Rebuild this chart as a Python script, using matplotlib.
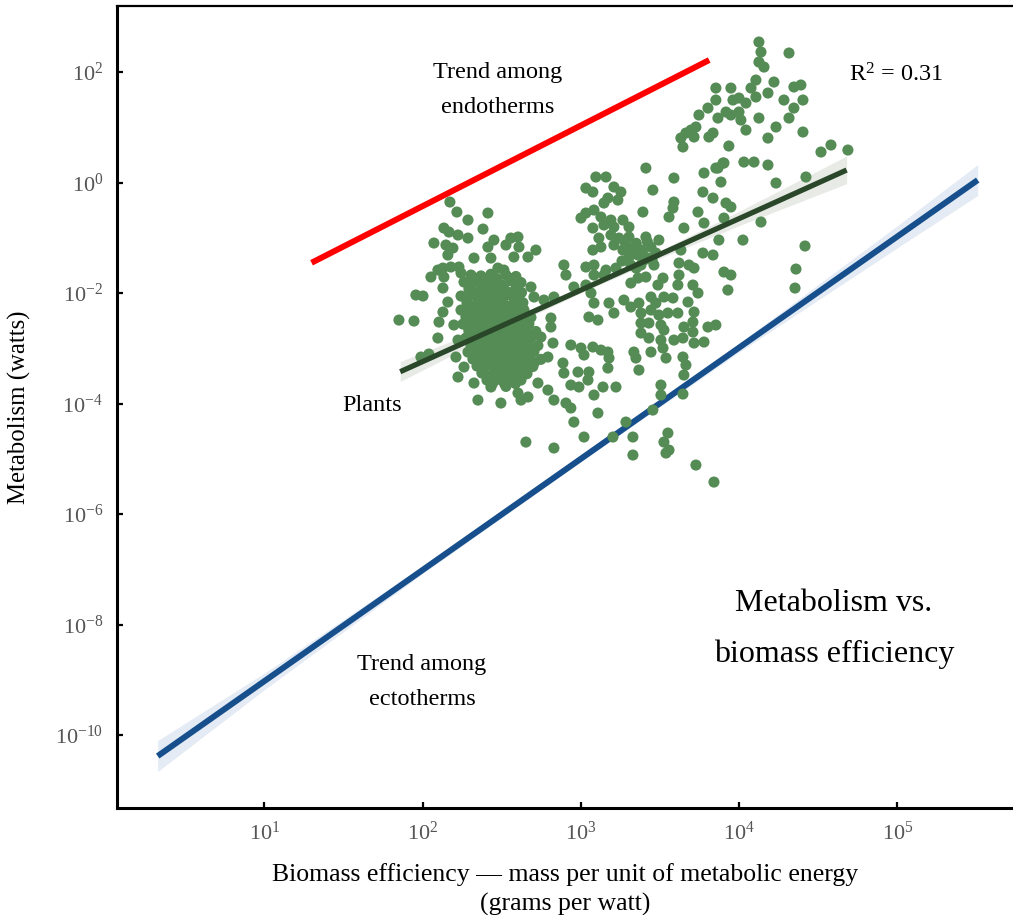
import numpy as np
import matplotlib
matplotlib.use('Agg')
import matplotlib.pyplot as plt

# Valores, en log10 (x: gramos por watt, y: watts)
# Nube de plantas, zona izquierda (~10^2 - 10^2.8)
cluster_a = [
    (2.173, -0.353), (2.217, -0.534), (2.287, -0.679), (2.413, -0.552), (2.135, -0.824),
    (2.167, -0.896), (2.224, -0.950), (2.287, -1.005), (2.382, -0.842), (2.072, -1.095),
    (2.148, -1.131), (2.192, -1.186), (2.160, -1.312), (2.451, -1.041), (2.413, -1.167),
    (2.325, -1.367), (2.432, -1.367), (2.527, -1.131), (2.558, -1.005), (2.603, -0.986),
    (2.609, -1.167), (2.577, -1.348), (2.666, -1.348), (2.716, -1.222), (2.476, -1.548),
    (2.514, -1.584), (2.129, -1.548), (2.179, -1.529), (2.230, -1.529), (2.097, -1.584),
    (2.053, -1.710), (2.243, -1.638), (2.135, -1.710), (1.958, -2.036), (2.003, -2.054),
    (1.851, -2.489), (1.946, -2.507), (2.129, -1.910), (2.160, -2.163), (2.129, -2.344),
    (2.104, -2.525), (2.198, -2.579), (2.097, -2.814), (2.224, -2.851), (1.990, -3.158),
    (2.040, -3.104), (2.685, -1.891), (2.704, -2.072), (2.641, -2.308), (2.767, -2.127),
    (2.830, -2.072), (2.811, -2.452), (2.811, -2.615), (2.748, -2.796), (2.824, -2.905),
    (2.792, -3.158), (2.830, -3.937), (2.792, -3.756), (2.729, -3.629), (2.666, -3.882),
    (2.603, -3.810), (2.622, -3.937), (2.495, -3.991), (2.350, -3.937), (2.224, -3.520),
    (2.325, -3.629), (2.262, -3.339), (2.211, -3.158), (2.653, -4.697), (2.830, -4.805),
]

# Nucleo denso de la zona izquierda
cluster_core = [
    (2.306, -1.674), (2.369, -1.690), (2.432, -1.660), (2.527, -1.674), (2.590, -1.700),
    (2.262, -1.801), (2.337, -1.790), (2.407, -1.815), (2.476, -1.801), (2.558, -1.780), (2.622, -1.810),
    (2.293, -1.928), (2.369, -1.940), (2.445, -1.915), (2.514, -1.928), (2.590, -1.950),
    (2.243, -2.054), (2.318, -2.040), (2.401, -2.070), (2.470, -2.054), (2.546, -2.030), (2.609, -2.060),
    (2.281, -2.181), (2.356, -2.195), (2.432, -2.170), (2.502, -2.181), (2.571, -2.200), (2.634, -2.175),
    (2.243, -2.308), (2.312, -2.290), (2.388, -2.320), (2.464, -2.308), (2.533, -2.295), (2.590, -2.320),
    (2.274, -2.434), (2.350, -2.450), (2.426, -2.420), (2.495, -2.434), (2.565, -2.450), (2.628, -2.425), (2.685, -2.440),
    (2.255, -2.561), (2.325, -2.545), (2.401, -2.575), (2.470, -2.561), (2.540, -2.550), (2.609, -2.575), (2.672, -2.555),
    (2.293, -2.688), (2.369, -2.700), (2.438, -2.675), (2.508, -2.688), (2.577, -2.705), (2.647, -2.680), (2.716, -2.695),
    (2.274, -2.814), (2.344, -2.800), (2.413, -2.830), (2.483, -2.814), (2.552, -2.800), (2.622, -2.825), (2.685, -2.810),
    (2.306, -2.941), (2.382, -2.955), (2.451, -2.930), (2.521, -2.941), (2.590, -2.960), (2.660, -2.935), (2.729, -2.950),
    (2.287, -3.068), (2.356, -3.055), (2.426, -3.080), (2.495, -3.068), (2.565, -3.055), (2.634, -3.080), (2.704, -3.060),
    (2.318, -3.195), (2.394, -3.210), (2.464, -3.185), (2.533, -3.195), (2.603, -3.210), (2.672, -3.185), (2.748, -3.200),
    (2.344, -3.321), (2.419, -3.305), (2.489, -3.335), (2.558, -3.321), (2.628, -3.305), (2.697, -3.330),
    (2.375, -3.448), (2.445, -3.460), (2.514, -3.435), (2.590, -3.448), (2.660, -3.460),
    (2.407, -3.575), (2.483, -3.560), (2.552, -3.585), (2.622, -3.575),
    (2.432, -3.701), (2.527, -3.690),
    # filas intermedias
    (2.341, -1.737), (2.404, -1.737), (2.467, -1.737), (2.562, -1.737),
    (2.297, -1.864), (2.372, -1.864), (2.442, -1.864), (2.511, -1.864), (2.593, -1.864),
    (2.328, -1.991), (2.404, -1.991), (2.480, -1.991), (2.549, -1.991), (2.625, -1.991),
    (2.278, -2.117), (2.353, -2.117), (2.436, -2.117), (2.505, -2.117), (2.581, -2.117),
    (2.316, -2.244), (2.391, -2.244), (2.467, -2.244), (2.537, -2.244), (2.606, -2.244),
    (2.278, -2.371), (2.347, -2.371), (2.423, -2.371), (2.499, -2.371), (2.568, -2.371), (2.625, -2.371),
    (2.309, -2.497), (2.385, -2.497), (2.461, -2.497), (2.530, -2.497), (2.600, -2.497), (2.663, -2.497),
    (2.290, -2.624), (2.360, -2.624), (2.436, -2.624), (2.505, -2.624), (2.575, -2.624), (2.644, -2.624),
    (2.328, -2.751), (2.404, -2.751), (2.473, -2.751), (2.543, -2.751), (2.612, -2.751), (2.682, -2.751),
    (2.309, -2.877), (2.379, -2.877), (2.448, -2.877), (2.518, -2.877), (2.587, -2.877), (2.657, -2.877),
    (2.341, -3.004), (2.417, -3.004), (2.486, -3.004), (2.556, -3.004), (2.625, -3.004), (2.695, -3.004),
    (2.322, -3.131), (2.391, -3.131), (2.461, -3.131), (2.530, -3.131), (2.600, -3.131), (2.669, -3.131),
    (2.353, -3.258), (2.429, -3.258), (2.499, -3.258), (2.568, -3.258), (2.638, -3.258), (2.707, -3.258),
    (2.379, -3.384), (2.454, -3.384), (2.524, -3.384), (2.593, -3.384), (2.663, -3.384),
    (2.410, -3.511), (2.480, -3.511), (2.549, -3.511), (2.625, -3.511),
    (2.442, -3.638), (2.518, -3.638), (2.587, -3.638),
]

# Zona central (~10^3 - 10^3.9)
cluster_b = [
    (3.411, 0.262), (3.588, 0.081), (3.778, 0.172), (3.866, 0.262), (3.904, 0.353),
    (4.030, 0.371), (4.094, 0.371), (3.095, 0.100), (3.159, 0.100), (3.032, -0.100),
    (3.076, -0.172), (3.209, -0.081), (3.253, -0.172), (3.455, -0.136), (3.885, 0.009),
    (3.771, -0.172), (3.835, -0.281), (3.171, -0.281), (3.146, -0.371), (3.234, -0.317),
    (3.588, -0.353), (3.582, -0.462), (3.557, -0.624), (3.740, -0.534), (3.392, -0.534),
    (3.917, -0.371), (3.948, -0.443), (3.001, -0.643), (3.032, -0.552), (3.083, -0.498),
    (3.127, -0.624), (3.190, -0.679), (3.266, -0.679), (3.076, -0.824), (3.146, -0.769),
    (3.209, -0.805), (3.304, -0.805), (3.651, -0.824), (3.778, -0.733), (3.904, -0.643),
    (4.138, -0.715), (3.114, -1.005), (3.190, -0.950), (3.241, -1.005), (3.304, -0.986),
    (3.411, -0.986), (3.493, -1.041), (3.872, -1.041), (4.024, -1.041), (3.076, -1.222),
    (3.127, -1.167), (3.209, -1.131), (3.266, -1.222), (3.329, -1.186), (3.380, -1.222),
    (3.443, -1.167), (3.304, -1.348), (3.361, -1.312), (3.424, -1.367), (3.474, -1.276),
    (3.632, -1.222), (3.771, -1.276), (3.835, -1.312), (2.893, -1.493), (3.032, -1.529),
    (3.083, -1.493), (3.159, -1.584), (3.222, -1.548), (3.316, -1.493), (3.380, -1.493),
    (3.462, -1.493), (3.620, -1.457), (3.683, -1.493), (3.715, -1.548), (2.906, -1.674),
    (3.083, -1.674), (3.146, -1.674), (3.620, -1.674), (3.904, -1.620), (3.948, -1.674),
    (2.956, -1.891), (3.032, -1.855), (3.064, -2.000), (3.316, -1.819), (3.361, -1.729),
    (3.411, -1.710), (3.487, -1.855), (3.519, -1.729), (3.613, -1.855), (3.708, -1.855),
    (3.740, -2.000), (3.929, -1.946), (3.083, -2.181), (3.178, -2.181), (3.209, -2.362),
    (3.272, -2.127), (3.316, -2.253), (3.367, -2.181), (3.443, -2.072), (3.474, -2.181),
    (3.525, -2.072), (3.582, -2.090), (3.677, -2.163), (3.380, -2.362), (3.443, -2.308),
    (3.493, -2.398), (3.550, -2.362), (3.613, -2.362), (3.715, -2.344), (3.051, -2.434),
    (3.108, -2.489), (3.380, -2.543), (3.430, -2.543), (3.506, -2.579), (3.651, -2.615),
    (3.708, -2.525), (3.803, -2.615), (3.853, -2.579), (3.380, -2.724), (3.525, -2.670),
    (3.708, -2.706), (3.430, -2.814), (3.506, -2.851), (3.588, -2.851), (3.645, -2.814),
    (3.715, -2.905), (3.778, -2.887), (2.937, -2.941), (3.001, -2.995), (3.076, -2.977),
    (3.127, -3.032), (3.171, -3.068), (3.335, -3.068), (3.443, -3.068), (3.519, -2.995),
    (3.538, -3.176), (3.645, -3.158), (3.664, -3.303), (3.020, -3.122), (3.178, -3.176),
    (3.348, -3.176), (2.887, -3.267), (3.171, -3.357), (2.982, -3.430), (3.051, -3.430),
    (3.367, -3.394), (3.651, -3.484), (2.893, -3.448), (2.937, -3.665), (2.988, -3.701),
    (3.045, -3.575), (3.140, -3.701), (3.222, -3.701), (3.083, -3.846), (3.506, -3.665),
    (3.506, -3.846), (3.645, -3.828), (2.906, -3.991), (2.937, -4.081), (3.455, -4.118),
    (2.956, -4.335), (3.108, -4.172), (3.285, -4.335), (3.020, -4.606), (3.203, -4.606),
    (3.329, -4.606), (3.550, -4.534), (3.525, -4.697), (3.329, -4.932), (3.538, -4.896),
    (3.557, -4.842), (3.727, -5.113), (3.841, -5.421),
    (3.280, -1.080), (3.350, -1.100), (3.420, -1.070), (3.300, -1.250), (3.390, -1.280),
    (3.450, -1.400), (3.260, -1.420), (3.350, -1.550), (3.400, -1.400),
]

# Zona derecha (~10^3.7 - 10^4.7)
cluster_c = [
    (4.125, 2.543), (4.138, 2.362), (4.315, 2.344), (4.125, 2.181), (4.157, 2.090),
    (3.853, 1.710), (3.948, 1.710), (4.075, 1.710), (4.106, 1.855), (4.220, 1.819),
    (4.346, 1.729), (4.390, 1.765), (3.803, 1.348), (3.853, 1.493), (3.961, 1.493),
    (3.999, 1.529), (4.043, 1.439), (4.106, 1.548), (4.182, 1.620), (4.283, 1.493),
    (4.403, 1.493), (4.346, 1.348), (3.746, 1.222), (3.866, 1.167), (3.917, 1.276),
    (3.948, 1.222), (3.999, 1.276), (4.011, 1.131), (4.125, 1.167), (4.315, 1.167),
    (3.727, 1.005), (3.696, 0.950), (3.664, 0.896), (3.632, 0.805), (3.715, 0.824),
    (3.835, 0.896), (3.809, 0.824), (4.043, 0.950), (4.233, 1.005), (4.403, 0.914),
    (3.645, 0.643), (3.935, 0.661), (4.182, 0.805), (4.517, 0.552), (4.580, 0.679),
    (4.687, 0.588), (3.898, 0.353), (3.853, 0.262), (4.182, 0.317), (4.233, -0.009),
    (4.422, 0.100), (4.416, -1.149), (4.359, -1.566), (4.353, -1.910),
]

# Rectas de tendencia (log10), extremos leidos
endo_x = [1.299, 3.811]
endo_y = [-1.452, 2.217]
ecto_x = [0.327, 5.507]
ecto_y = [-10.38, 0.045]
plant_x = [1.859, 4.679]
plant_y = [-3.424, 0.226]

# Bandas de confianza (log10)
ecto_band_x = [0.327, 1.0, 2.0, 3.0, 4.0, 5.0, 5.507]
ecto_band_lo = [-10.66, -9.18, -7.08, -5.05, -3.07, -1.18, -0.235]
ecto_band_hi = [-10.10, -8.88, -6.94, -4.95, -2.91, -0.78, 0.325]
plant_band_x = [1.859, 2.5, 3.0, 3.5, 4.0, 4.679]
plant_band_lo = [-3.60, -2.67, -2.00, -1.37, -0.78, -0.02]
plant_band_hi = [-3.24, -2.51, -1.90, -1.23, -0.52, 0.48]

x_ticks = [1e1, 1e2, 1e3, 1e4, 1e5]
y_ticks = [1e-10, 1e-8, 1e-6, 1e-4, 1e-2, 1e0, 1e2]

plt.rcParams['font.family'] = ['Liberation Serif', 'DejaVu Serif']
plt.rcParams['mathtext.fontset'] = 'custom'
plt.rcParams['mathtext.rm'] = 'Liberation Serif'
plt.rcParams['mathtext.it'] = 'Liberation Serif:italic'

fig = plt.figure(figsize=(10.13, 9.15), dpi=100)
ax = fig.add_axes([117 / 1013, 107 / 915, 896 / 1013, 802 / 915])
ax.set_xscale('log')
ax.set_yscale('log')

pts = np.array(cluster_a + cluster_core + cluster_b + cluster_c)
px = 10 ** pts[:, 0]
py = 10 ** pts[:, 1]

def p10(v):
    return 10 ** np.array(v)

# banda y recta de ectotermos (debajo de los puntos)
ax.fill_between(p10(ecto_band_x), p10(ecto_band_lo), p10(ecto_band_hi),
                color='#e4ebf4', lw=0, zorder=1)
ax.plot(p10(ecto_x), p10(ecto_y), color='#164f8c', lw=4.3, solid_capstyle='butt', zorder=2)

# banda de plantas
ax.fill_between(p10(plant_band_x), p10(plant_band_lo), p10(plant_band_hi),
                color='#e7eae5', lw=0, zorder=1)

ax.scatter(px, py, s=64, color='#558b55', edgecolors='none', zorder=3)

ax.plot(p10(plant_x), p10(plant_y), color='#2a472a', lw=3.8, solid_capstyle='butt', zorder=4)
ax.plot(p10(endo_x), p10(endo_y), color='#ff0000', lw=4.3, solid_capstyle='butt', zorder=4)

ax.set_xlim(10 ** 0.07, 10 ** 5.73)
ax.set_ylim(10 ** -11.32, 10 ** 3.195)
ax.set_xticks(x_ticks)
ax.set_yticks(y_ticks)
ax.minorticks_off()
ax.tick_params(direction='in', length=4, width=1.6, labelsize=16, labelcolor='#555555', pad=10)

for s in ['left', 'bottom']:
    ax.spines[s].set_linewidth(2.2)
ax.spines['top'].set_linewidth(1.6)
ax.spines['right'].set_visible(False)

ax.set_xlabel('Biomass efficiency \u2014 mass per unit of metabolic energy\n(grams per watt)',
              fontsize=18.5, linespacing=1.35)
ax.xaxis.set_label_coords(0.5, -0.069)
ax.set_ylabel('Metabolism (watts)', fontsize=17.8)
ax.yaxis.set_label_coords(-0.096, 0.5)

txt = dict(fontsize=17.5, ha='center', va='center', linespacing=1.88, zorder=5)
ax.text(10 ** 2.476, 10 ** 1.675, 'Trend among\nendotherms', **txt)
ax.text(10 ** 1.68, 10 ** -4.027, 'Plants', **txt)
ax.text(10 ** 1.996, 10 ** -9.04, 'Trend among\nectotherms', **txt)
ax.text(10 ** 4.99, 10 ** 1.946, 'R$^{2}$ = 0.31', **txt)
ax.text(10 ** 4.599, 10 ** -8.08, 'Metabolism vs.\nbiomass efficiency',
        fontsize=23, ha='center', va='center', linespacing=1.95, zorder=5)

fig.savefig('out.png', dpi=100)
